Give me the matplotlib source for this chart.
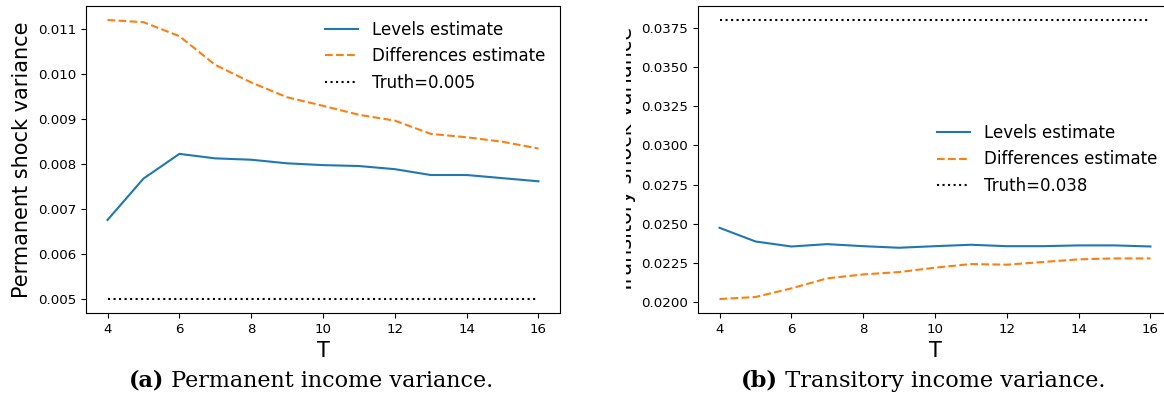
import matplotlib
matplotlib.use("Agg")
import matplotlib.pyplot as plt
from matplotlib.transforms import Bbox, TransformedBbox

T = [4, 5, 6, 7, 8, 9, 10, 11, 12, 13, 14, 15, 16]
perm_levels = [0.00676, 0.00768, 0.00823, 0.00813, 0.00810, 0.00802, 0.00798,
               0.00796, 0.00789, 0.00776, 0.00776, 0.00769, 0.00762]
perm_diffs = [0.01121, 0.01116, 0.01085, 0.01021, 0.00982, 0.00949, 0.00930,
              0.00910, 0.00897, 0.008675, 0.00860, 0.00850, 0.00835]
perm_truth = 0.005
trans_levels = [0.02475, 0.02388, 0.02356, 0.02371, 0.02358, 0.02348, 0.02358,
                0.02367, 0.02358, 0.02358, 0.02363, 0.02363, 0.02356]
trans_diffs = [0.02021, 0.02034, 0.02089, 0.02153, 0.02178, 0.02193, 0.02221,
               0.02244, 0.02240, 0.02257, 0.02274, 0.02280, 0.02280]
trans_truth = 0.038
captions = [("(a)", "Permanent income variance."), ("(b)", "Transitory income variance.")]
ylabels = ["Permanent shock variance", "Transitory shock variance"]

W, H = 1164, 407
fig = plt.figure(figsize=(W / 100, H / 100), dpi=100)

def px_axes(l, t, r, b):
    return fig.add_axes([l / W, 1 - b / H, (r - l) / W, (b - t) / H])

ax1 = px_axes(86, 6, 560, 313)
ax2 = px_axes(698, 6, 1172, 313)

for ax, lev, dif, truth, ylab in [(ax1, perm_levels, perm_diffs, perm_truth, ylabels[0]),
                                  (ax2, trans_levels, trans_diffs, trans_truth, ylabels[1])]:
    ax.plot(T, lev, color="#1f77b4", lw=1.5, label="Levels estimate")
    ax.plot(T, dif, color="#ff7f0e", lw=1.5, ls="--", label="Differences estimate")
    ax.plot(T, [truth] * len(T), color="black", lw=1.5, ls=":", label=f"Truth={truth}")
    ax.set_xticks([4, 6, 8, 10, 12, 14, 16])
    ax.tick_params(labelsize=9.6)
    ax.set_xlabel("T", fontsize=15)
    ax.set_ylabel(ylab, fontsize=15)

ax1.set_yticks([0.005, 0.006, 0.007, 0.008, 0.009, 0.010, 0.011])
ax1.set_yticklabels(["0.005", "0.006", "0.007", "0.008", "0.009", "0.010", "0.011"])
ax2.set_yticks([0.02, 0.0225, 0.025, 0.0275, 0.03, 0.0325, 0.035, 0.0375])
ax2.set_yticklabels(["0.0200", "0.0225", "0.0250", "0.0275", "0.0300", "0.0325", "0.0350", "0.0375"])
ax2.spines["right"].set_visible(False)

ax1.legend(loc="upper right", frameon=False, fontsize=12)
ax2.legend(loc="center right", frameon=False, fontsize=12)

# right panel ylabel is cropped in the reference
clip = TransformedBbox(Bbox([[626 / W, 0], [1, 1]]), fig.transFigure)
ax2.yaxis.label.set_clip_box(clip)
ax2.yaxis.label.set_clip_on(True)

# captions: bold tag + regular text, fitted to the reference width
fig.canvas.draw()
r = fig.canvas.get_renderer()
for (bold, rest), cx, target in zip(captions, [311, 923], [366, 364]):
    fs = 16.0
    t1 = fig.text(0, 0, bold, fontsize=fs, fontweight="bold", family="DejaVu Serif")
    t2 = fig.text(0, 0, " " + rest, fontsize=fs, family="DejaVu Serif")
    w = t1.get_window_extent(r).width + t2.get_window_extent(r).width
    fs = fs * target / w
    t1.set_fontsize(fs)
    t2.set_fontsize(fs)
    w1 = t1.get_window_extent(r).width
    w2 = t2.get_window_extent(r).width
    x0 = cx - (w1 + w2) / 2
    yb = 1 - 387 / H
    t1.set_position((x0 / W, yb))
    t2.set_position(((x0 + w1) / W, yb))
    t1.set_va("baseline")
    t2.set_va("baseline")

fig.savefig("out.png", dpi=100)
